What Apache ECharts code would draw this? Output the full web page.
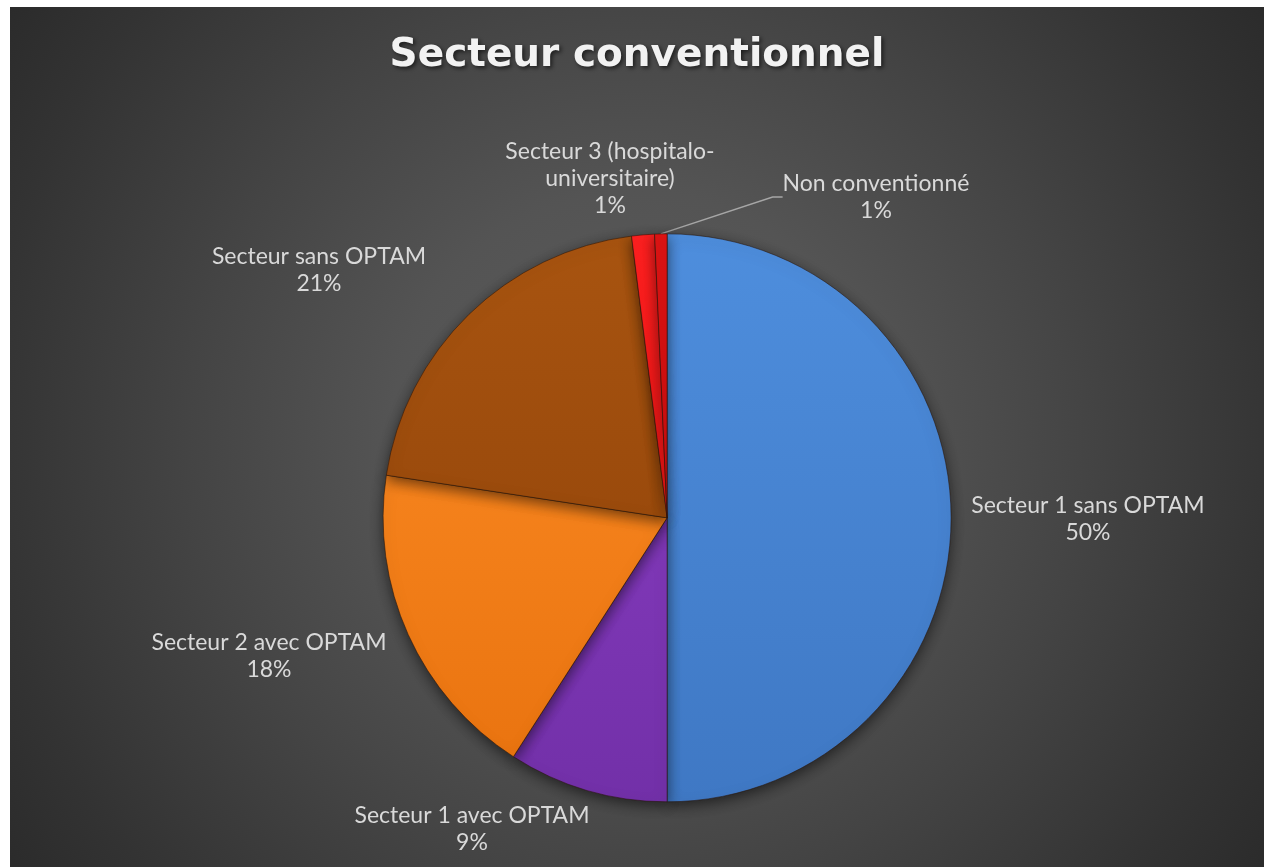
<!DOCTYPE html>
<html>
<head>
<meta charset="utf-8">
<script src="https://cdn.jsdelivr.net/npm/echarts@6/dist/echarts.min.js"></script>
<style>
    html, body { margin: 0; padding: 0; background: #fff; }
    #secteurChart { position: absolute; left: 10px; top: 7px; width: 1254px; height: 860px; }
</style>
</head>
<body>
<div id="secteurChart"></div>
<script>
// donnees (en %)
var secteurNames = [
    'Secteur 1 sans OPTAM',
    'Secteur 1 avec OPTAM',
    'Secteur 2 avec OPTAM',
    'Secteur sans OPTAM',
    'Secteur 3 (hospitalo-\nuniversitaire)',
    'Non conventionné'
];
var secteurValues = [50.0, 9.1, 18.3, 20.6, 1.3, 0.7];

var secteurColors = [
    ['#4e8edd', '#3f78c4'],
    ['#8038b8', '#7230a8'],
    ['#f5821c', '#ea7410'],
    ['#a85410', '#9a4a0c'],
    ['#ff2020', '#f01414'],
    ['#e01414', '#c80c0c']
];
// centre des etiquettes, en px dans le graphique
var labelPos = [
    [1078, 512],
    [462, 822],
    [259, 649],
    [309, 263],
    [600, 172],
    [866, 190]
];

prepare_secteur_chart();

function prepare_secteur_chart() {
    var secteurChart = echarts.init(document.getElementById('secteurChart'));
    var data = [];
    for (var i = 0; i < secteurNames.length; i++) {
        data.push({
            name: secteurNames[i],
            value: secteurValues[i],
            itemStyle: {
                color: {
                    type: 'linear', x: 0, y: 0, x2: 0, y2: 1,
                    colorStops: [
                        {offset: 0, color: secteurColors[i][0]},
                        {offset: 1, color: secteurColors[i][1]}
                    ]
                }
            },
            labelLine: {show: i == 5}
        });
    }
    secteurChart.setOption({
        backgroundColor: {
            type: 'radial', x: 0.5, y: 0.5, r: 0.95,
            colorStops: [
                {offset: 0, color: '#5c5c5c'},
                {offset: 0.3, color: '#545454'},
                {offset: 0.55, color: '#444444'},
                {offset: 0.8, color: '#333333'},
                {offset: 1, color: '#272727'}
            ]
        },
        title: {
            text: 'Secteur conventionnel',
            left: 'center',
            top: 24,
            textStyle: {
                color: '#f2f2f2',
                fontFamily: 'DejaVu Sans',
                fontWeight: 'bold',
                fontSize: 39,
                textShadowColor: 'rgba(0,0,0,0.6)',
                textShadowBlur: 4,
                textShadowOffsetX: 2,
                textShadowOffsetY: 2
            }
        },
        series: [{
            type: 'pie',
            center: ['52.4%', '59.4%'],
            radius: 284,
            startAngle: 90,
            clockwise: true,
            avoidLabelOverlap: false,
            itemStyle: {
                borderColor: 'rgba(40,20,10,0.55)',
                borderWidth: 1,
                shadowBlur: 14,
                shadowOffsetY: 4,
                shadowColor: 'rgba(0,0,0,0.55)'
            },
            label: {
                show: true,
                position: 'outside',
                color: '#d9d9d9',
                fontFamily: 'Lato',
                fontSize: 23,
                lineHeight: 27,
                align: 'center',
                formatter: function (p) {
                    return p.name + '\n' + Math.round(p.percent) + '%';
                }
            },
            labelLine: {
                show: false,
                length: 20,
                length2: 10,
                lineStyle: {color: '#a6a6a6', width: 1.5}
            },
            labelLayout: function (params) {
                var pos = labelPos[params.dataIndex];
                return {
                    x: pos[0],
                    y: pos[1],
                    align: 'center',
                    verticalAlign: 'middle'
                };
            },
            emphasis: {disabled: true},
            animation: false,
            data: data
        }]
    });
}
</script>
</body>
</html>
